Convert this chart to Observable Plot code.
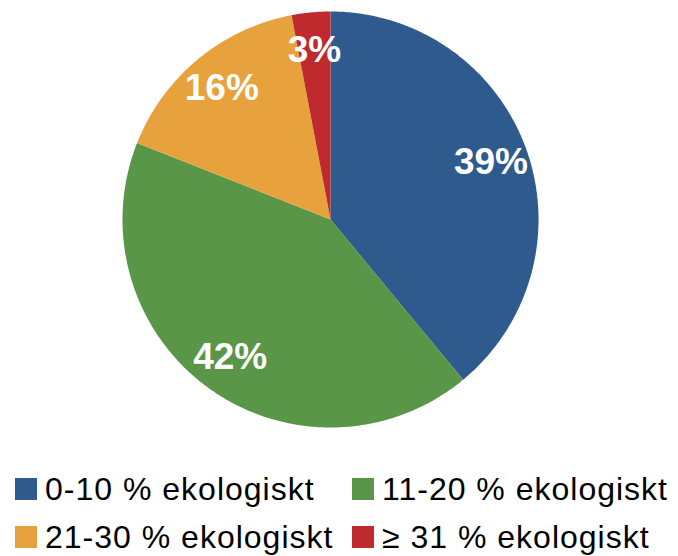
<!DOCTYPE html>
<html>
<head>
<meta charset="utf-8">
<script src="https://cdn.jsdelivr.net/npm/d3@7"></script>
<script src="https://cdn.jsdelivr.net/npm/@observablehq/plot@0.6"></script>
<style>
  body { margin: 0; background: #fff; font-family: "Liberation Sans", Arial, sans-serif; }
  #chart { width: 678px; }
  .legend { display: grid; grid-template-columns: 337px auto; grid-auto-rows: 48px; padding-left: 15px; margin-top: 25px; }
  .item { display: flex; align-items: center; font-size: 32px; letter-spacing: 1px; color: #000; white-space: nowrap; }
  .sw { width: 22px; height: 22px; margin-right: 8px; flex: none; }
</style>
</head>
<body>
<div id="chart"></div>
<script>
const categories = ["0-10 % ekologiskt", "11-20 % ekologiskt", "21-30 % ekologiskt", "≥ 31 % ekologiskt"];
const shares = [39, 42, 16, 3];
const colors = ["#2E5A8E", "#5A9647", "#E8A23D", "#BF2A2F"];

const arcs = d3.pie().sort(null).value(d => d)(shares);
const features = arcs.map((a, i) => {
  const n = Math.max(2, Math.ceil((a.endAngle - a.startAngle) / 0.01));
  const ring = [[0, 0]];
  for (let k = 0; k <= n; k++) {
    const t = a.startAngle + (a.endAngle - a.startAngle) * k / n;
    ring.push([Math.sin(t), -Math.cos(t)]);
  }
  ring.push([0, 0]);
  return { type: "Feature", properties: { category: categories[i], share: a.data },
           geometry: { type: "Polygon", coordinates: [ring] } };
});
const mid = a => (a.startAngle + a.endAngle) / 2;
const labelR = 0.82;

const plot = Plot.plot({
  width: 678,
  height: 440,
  marginTop: 11,
  marginBottom: 13,
  marginLeft: 122,
  marginRight: 140,
  projection: { type: "identity", domain: { type: "MultiPoint", coordinates: [[-1, -1], [1, 1]] } },
  color: { domain: categories, range: colors },
  style: { fontFamily: "'Liberation Sans', Arial, sans-serif", background: "#fff" },
  marks: [
    Plot.geo(features, { fill: d => d.properties.category }),
    Plot.text(arcs, {
      x: a => labelR * Math.sin(mid(a)),
      y: a => -labelR * Math.cos(mid(a)),
      text: a => a.data + "%",
      fill: "white",
      fontSize: 37,
      fontWeight: "bold"
    })
  ]
});
document.getElementById("chart").appendChild(plot);

const legend = document.createElement("div");
legend.className = "legend";
categories.forEach((c, i) => {
  const item = document.createElement("div");
  item.className = "item";
  const sw = document.createElement("span");
  sw.className = "sw";
  sw.style.background = colors[i];
  item.appendChild(sw);
  item.appendChild(document.createTextNode(c));
  legend.appendChild(item);
});
document.getElementById("chart").appendChild(legend);
</script>
</body>
</html>
